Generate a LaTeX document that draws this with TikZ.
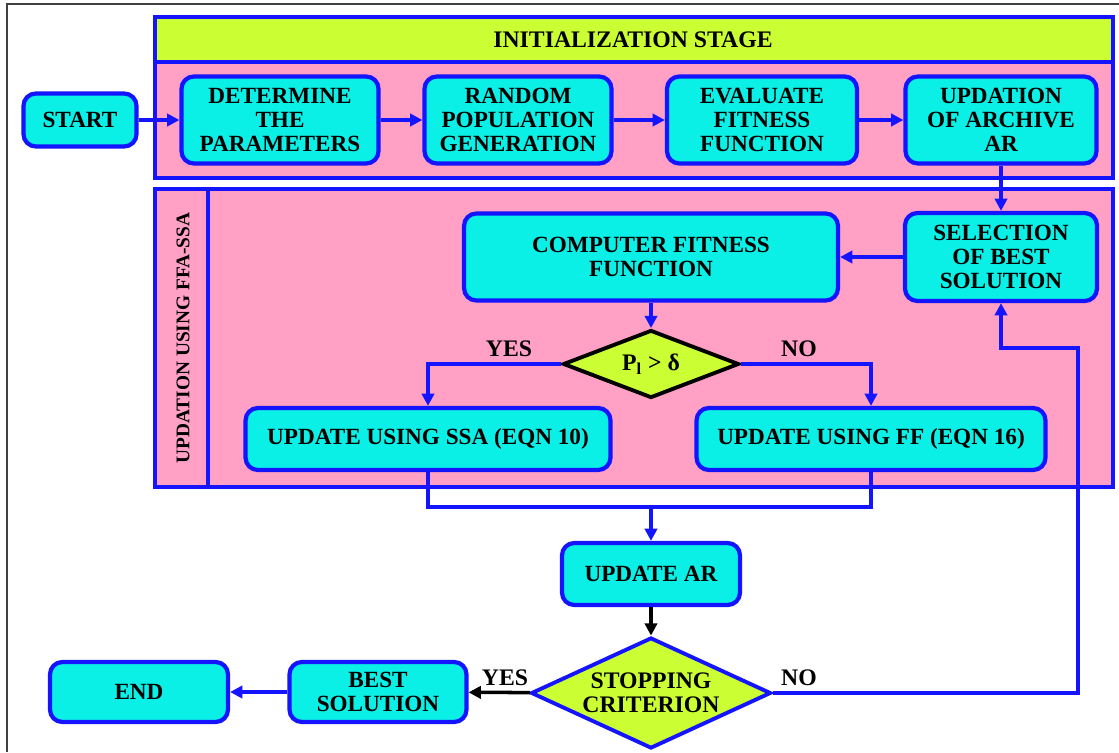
\documentclass[tikz,border=0pt]{standalone}
\usepackage{fontspec}
\setmainfont{Liberation Serif}[BoldFont={Liberation Serif Bold}]
\usetikzlibrary{shapes.geometric,arrows.meta}
\definecolor{boxcyan}{RGB}{10,240,230}
\definecolor{stagepink}{RGB}{255,160,196}
\definecolor{headlime}{RGB}{204,255,51}
\definecolor{lineblue}{RGB}{20,20,255}
\begin{document}
\begin{tikzpicture}[x=0.02cm,y=-0.02cm,line width=2pt,
>={Triangle[length=7pt,width=7pt]},
stepbox/.style={draw=lineblue,fill=boxcyan,rectangle,rounded corners=7pt,line width=2.4pt,align=center,inner sep=2pt,font=\rmfamily\bfseries\fontsize{13.2}{13.6}\selectfont},
decide/.style={diamond,fill=headlime,shape aspect=2.2,inner sep=0pt,line width=2.2pt,align=center,font=\rmfamily\bfseries\fontsize{13.5}{13.8}\selectfont},
stage/.style={draw=lineblue,line width=2.4pt},
lbl/.style={font=\rmfamily\bfseries\fontsize{13.5}{14}\selectfont}]
\useasboundingbox (0,0) rectangle (1119,752);
\draw[line width=0.8pt,black!75] (7,752) -- (7,4) -- (1119,4);
% stages
\draw[stage,fill=stagepink] (155,17) rectangle (1113,178);
\draw[stage,fill=headlime] (155,17) rectangle (1113,62);
\draw (633,40) node[lbl] (initlabel) {INITIALIZATION STAGE};
\draw[stage,fill=stagepink] (155,189) rectangle (1113,487);
\draw[stage] (208,189) -- (208,487);
\draw (183,338) node[lbl,rotate=90,font=\rmfamily\bfseries\fontsize{11}{13}\selectfont] (updlabel) {UPDATION USING FFA-SSA};
% blocks
\draw (80,120) node[stepbox,minimum width=2.26cm,minimum height=1.06cm] (start) {START};
\draw (280,120) node[stepbox,minimum width=3.94cm,minimum height=1.74cm] (param) {DETERMINE\\THE\\PARAMETERS};
\draw (518,120) node[stepbox,minimum width=3.74cm,minimum height=1.74cm] (pop) {RANDOM\\POPULATION\\GENERATION};
\draw (762,120) node[stepbox,minimum width=3.8cm,minimum height=1.74cm] (eval) {EVALUATE\\FITNESS\\FUNCTION};
\draw (1001,120) node[stepbox,minimum width=3.82cm,minimum height=1.74cm] (archive) {UPDATION\\OF ARCHIVE\\AR};
\draw (1001,257) node[stepbox,minimum width=3.84cm,minimum height=1.76cm] (select) {SELECTION\\OF BEST\\SOLUTION};
\draw (651,257) node[stepbox,minimum width=7.48cm,minimum height=1.74cm] (fitness) {COMPUTER FITNESS\\FUNCTION};
\draw (651,364) node[decide,draw=black,minimum width=3.52cm,minimum height=1.36cm] (plcheck) {P\textsubscript{l} > δ};
\draw (428,439) node[stepbox,minimum width=7.3cm,minimum height=1.24cm] (ssa) {UPDATE USING SSA (EQN 10)};
\draw (871,439) node[stepbox,minimum width=6.98cm,minimum height=1.24cm] (ff) {UPDATE USING FF (EQN 16)};
\draw (651,574) node[stepbox,minimum width=3.56cm,minimum height=1.24cm] (updar) {UPDATE AR};
\draw (651,693) node[decide,draw=lineblue,minimum width=4.8cm,minimum height=2.22cm] (stop) {STOPPING\\CRITERION};
\draw (378,692) node[stepbox,minimum width=3.54cm,minimum height=1.2cm] (best) {BEST\\SOLUTION};
\draw (139,692) node[stepbox,minimum width=3.56cm,minimum height=1.2cm] (finish) {END};
% labels
\draw (509,349) node[lbl] (yesup) {YES};
\draw (799,349) node[lbl] (noup) {NO};
\draw (505,678) node[lbl] (yesdown) {YES};
\draw (799,678) node[lbl] (nodown) {NO};
% connectors
\draw[->,lineblue] (start) -- (param);
\draw[->,lineblue] (param) -- (pop);
\draw[->,lineblue] (pop) -- (eval);
\draw[->,lineblue] (eval) -- (archive);
\draw[->,lineblue] (archive) -- (select);
\draw[->,lineblue] (select) -- (fitness);
\draw[->,lineblue] (fitness) -- (plcheck);
\draw[->,lineblue] (plcheck.west) -| (ssa.north);
\draw[->,lineblue] (plcheck.east) -| (ff.north);
\coordinate (merge) at (651,507);
\draw[lineblue] (ssa.south) |- (merge) -| (ff.south);
\draw[->,lineblue] (merge) -- (updar);
\draw[->,black] (updar) -- (stop);
\draw[->,black] (stop) -- (best);
\draw[->,lineblue] (best) -- (finish);
\coordinate (loop) at (1078,348);
\draw[->,lineblue] (stop.east) -| (loop) -| (select.south);
\end{tikzpicture}
\end{document}
